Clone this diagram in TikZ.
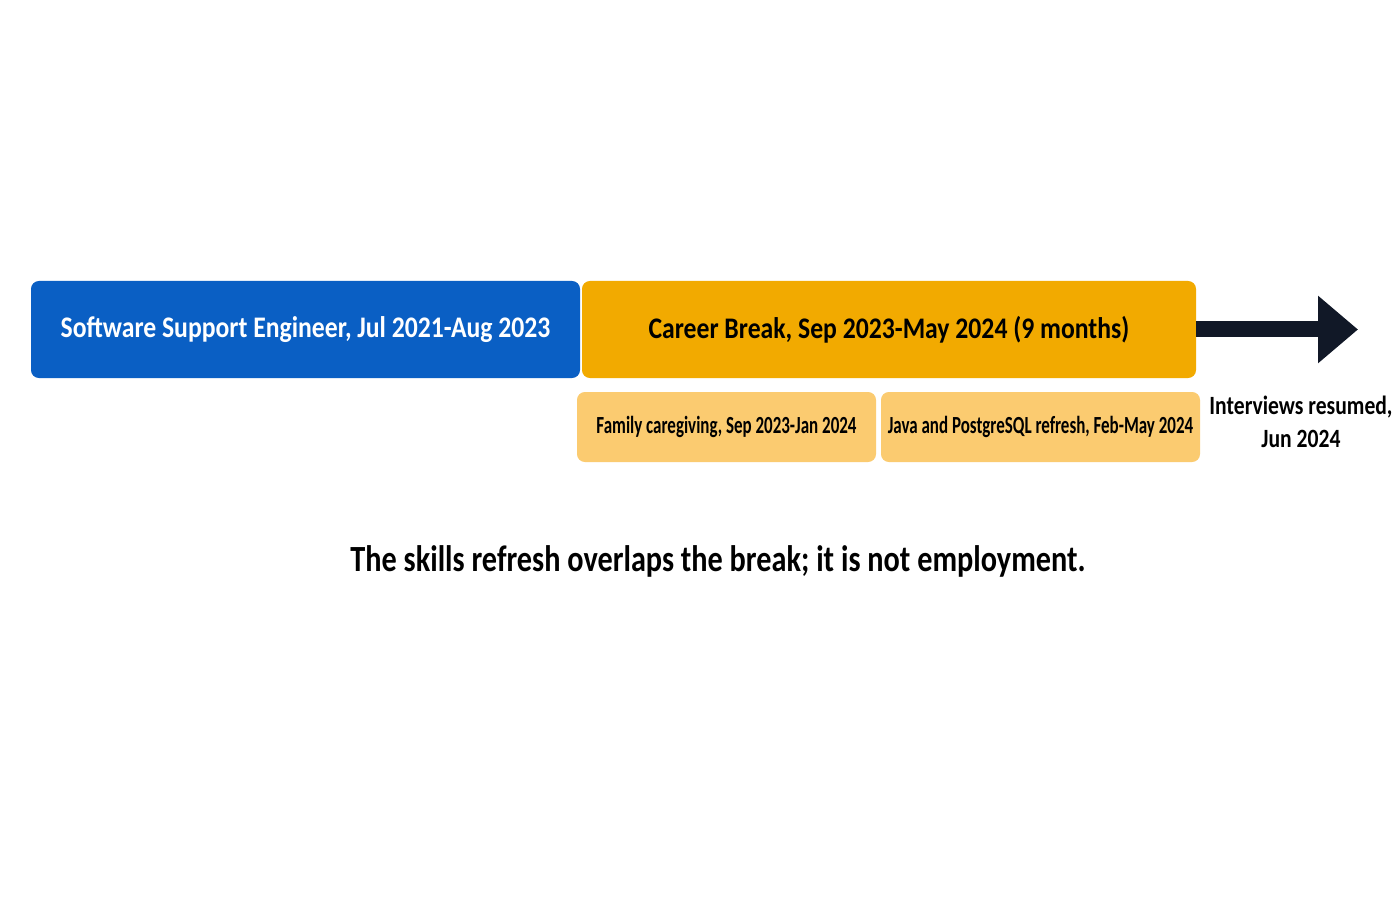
\documentclass[tikz,border=0pt]{standalone}
\usepackage{fontspec}
\setmainfont{Carlito}
\newfontfamily\mainboxfont{Carlito}[FakeStretch=0.86]
\newfontfamily\subboxfont{Carlito}[FakeStretch=0.69]
\newfontfamily\notefont{Carlito}[FakeStretch=0.82]
\usepackage{tikz}
\usetikzlibrary{arrows.meta,positioning}
\definecolor{clrJob}{HTML}{0A5FC4}
\definecolor{clrBreak}{HTML}{F2AA00}
\definecolor{clrSub}{HTML}{FBCB70}
\definecolor{clrArrow}{HTML}{111827}
\tikzstyle{box_style0}=[rounded corners=4.5pt, anchor=center, text centered, inner sep=2pt]
\tikzstyle{jobbox}=[box_style0, fill=clrJob, text=white, minimum width=10.98cm, minimum height=1.94cm, font=\mainboxfont\bfseries\fontsize{17}{20}\selectfont]
\tikzstyle{breakbox}=[box_style0, fill=clrBreak, text=black, minimum width=12.28cm, minimum height=1.94cm, font=\mainboxfont\bfseries\fontsize{17}{20}\selectfont]
\tikzstyle{subbox}=[box_style0, fill=clrSub, text=black, minimum height=1.4cm, font=\subboxfont\bfseries\fontsize{14}{17}\selectfont]
\tikzstyle{myarrow}=[-{Triangle[length=0.8cm,width=1.3cm]}, line width=0.32cm, draw=clrArrow]
\begin{document}
\begin{tikzpicture}
	\useasboundingbox[fill=white] (0,0) rectangle (28,18);

	\node[jobbox] (job) at (6.11,11.41) {Software Support Engineer, Jul 2021-Aug 2023};
	\node[breakbox] (brk) at (17.78,11.41) {Career Break, Sep 2023-May 2024 (9 months)};

	\node[subbox, minimum width=5.98cm] (care) at (14.53,9.46) {Family caregiving, Sep 2023-Jan 2024};
	\node[subbox, minimum width=6.38cm] (refresh) at (20.81,9.46) {Java and PostgreSQL refresh, Feb-May 2024};

	\coordinate (tip) at (27.16,11.41);
	\draw[myarrow] (brk.east) -- (tip);

	\node[align=center, font=\notefont\bfseries\fontsize{15}{19}\selectfont] (resume) at (26.02,9.56) {Interviews resumed,\\Jun 2024};

	\node[font=\notefont\bfseries\fontsize{21}{25}\selectfont] (note) at (14.36,6.78) {The skills refresh overlaps the break; it is not employment.};
\end{tikzpicture}
\end{document}
